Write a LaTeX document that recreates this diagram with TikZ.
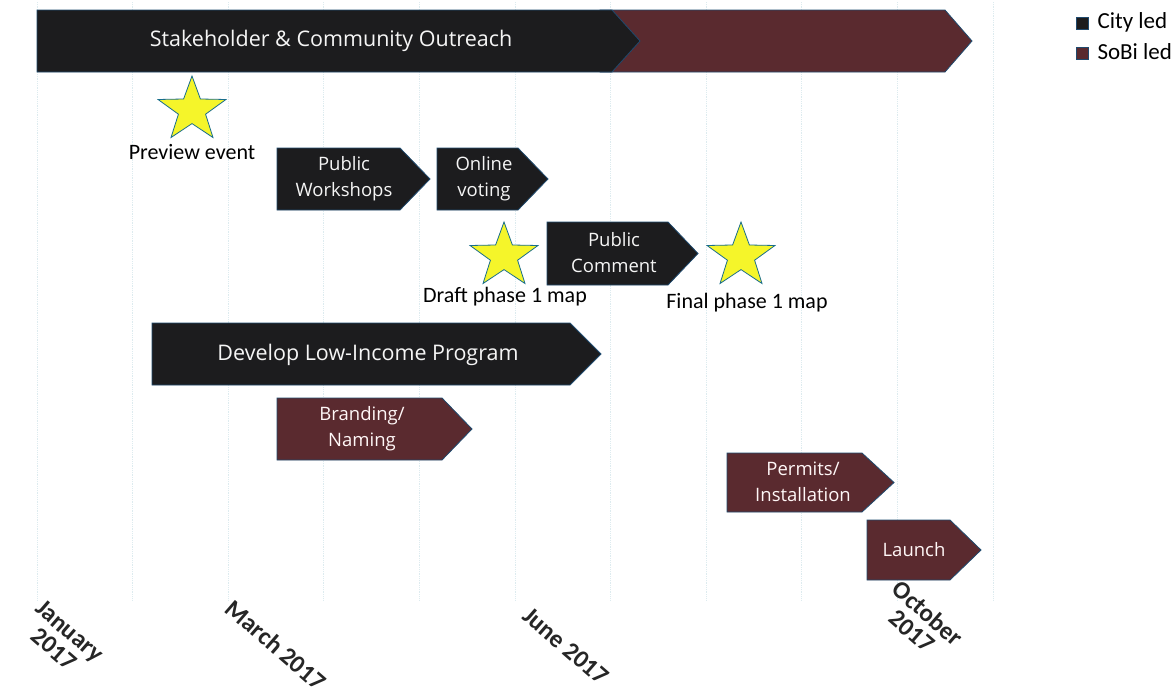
\documentclass[tikz,border=0pt]{standalone}
\usepackage{fontspec}
\setmainfont{Carlito}
\newfontfamily\boxfont{Open Sans}
\usetikzlibrary{shapes.geometric}
\definecolor{citycol}{HTML}{1C1C1E}
\definecolor{sobicol}{HTML}{5A2A2F}
\definecolor{edgecol}{HTML}{1F4A6E}
\definecolor{starcol}{HTML}{F5F52A}
\definecolor{gridcol}{HTML}{DDEBEF}
\tikzset{
  chevcity/.style={fill=citycol,draw=edgecol,line width=0.8pt},
  chevsobi/.style={fill=sobicol,draw=edgecol,line width=0.8pt},
  boxtext/.style={text=white!92!gray,font=\boxfont\fontsize{18.5}{26}\selectfont,align=center},
  bigtext/.style={text=white!92!gray,font=\boxfont\fontsize{21.5}{24}\selectfont,align=center},
  sobitext/.style={text=white!88!pink,font=\boxfont\fontsize{18.5}{26}\selectfont,align=center},
  starnode/.style={star,star points=5,star point ratio=2.5,minimum size=68pt,inner sep=0pt,fill=starcol,draw=edgecol!80!cyan,line width=0.8pt,xscale=1.05},
  lbl/.style={font=\fontsize{22}{24}\selectfont,text=black},
  legtext/.style={anchor=west,font=\fontsize{23}{26}\selectfont,text=black},
  datelbl/.style={font=\bfseries\fontsize{25}{24}\selectfont,rotate=-41,align=center,text=black!85},
  legsq/.style={draw=edgecol,line width=0.8pt,minimum size=12pt,inner sep=0pt},
  gridline/.style={gridcol,densely dotted,line width=0.8pt}
}
% \chev{x1}{y1}{x2}{y2}{tip}{style}
\newcommand{\chev}[6]{\path[#6] (#1,#2) -- (#3,#2) -- (#3+#5,{(#2+#4)/2}) -- (#3,#4) -- (#1,#4) -- cycle;}
\begin{document}
\begin{tikzpicture}[x=1pt,y=-1pt]
\useasboundingbox[fill=white] (0,0) rectangle (1174,696);
% faint month grid
\foreach \i in {0,...,10}{
  \draw[gridline] ({37+95.6*\i},2) -- ({37+95.6*\i},600);
}
% top bar
\chev{600}{10}{945}{72}{27}{chevsobi}
\chev{37}{10}{612}{72}{28}{chevcity}
\node[bigtext] (outreach) at (331,41) {Stakeholder \& Community Outreach};
% legend
\node[legsq,fill=citycol] (legcity) at (1082,23) {};
\node[legtext] (legcitytxt) at (1094,22) {City led};
\node[legsq,fill=sobicol] (legsobi) at (1082,53) {};
\node[legtext] (legsobitxt) at (1094,52) {SoBi led};
% stars
\node[starnode] (star1) at (192,110) {};
\node[lbl] (preview) at (192,152) {Preview event};
\node[starnode] (star2) at (504,256) {};
\node[lbl] (draft) at (505,297) {Draft phase 1 map};
\node[starnode] (star3) at (741,256) {};
\node[lbl] (final) at (747,303) {Final phase 1 map};
% chevrons
\chev{277}{148}{400}{210}{30}{chevcity}
\node[boxtext] (workshops) at (344,179) {Public\\Workshops};
\chev{437}{148}{518}{210}{30}{chevcity}
\node[boxtext] (voting) at (484,179) {Online\\voting};
\chev{547}{222}{668}{285}{30}{chevcity}
\node[boxtext] (comment) at (614,253) {Public\\Comment};
\chev{152}{323}{570}{385}{31}{chevcity}
\node[bigtext] (lowinc) at (368,355) {Develop Low-Income Program};
\chev{277}{398}{442}{460}{30}{chevsobi}
\node[sobitext] (branding) at (362,429) {Branding/\\Naming};
\chev{727}{453}{862}{512}{32}{chevsobi}
\node[sobitext] (permits) at (803,482) {Permits/\\Installation};
\chev{867}{520}{950}{580}{31}{chevsobi}
\node[sobitext] (launch) at (914,550) {Launch};
% date labels
\node[datelbl] (jan) at (62,640) {January\\2017};
\node[datelbl] (mar) at (276,645) {March 2017};
\node[datelbl] (jun) at (566,646) {June 2017};
\node[datelbl] (oct) at (920,622) {October\\2017};
\end{tikzpicture}
\end{document}
